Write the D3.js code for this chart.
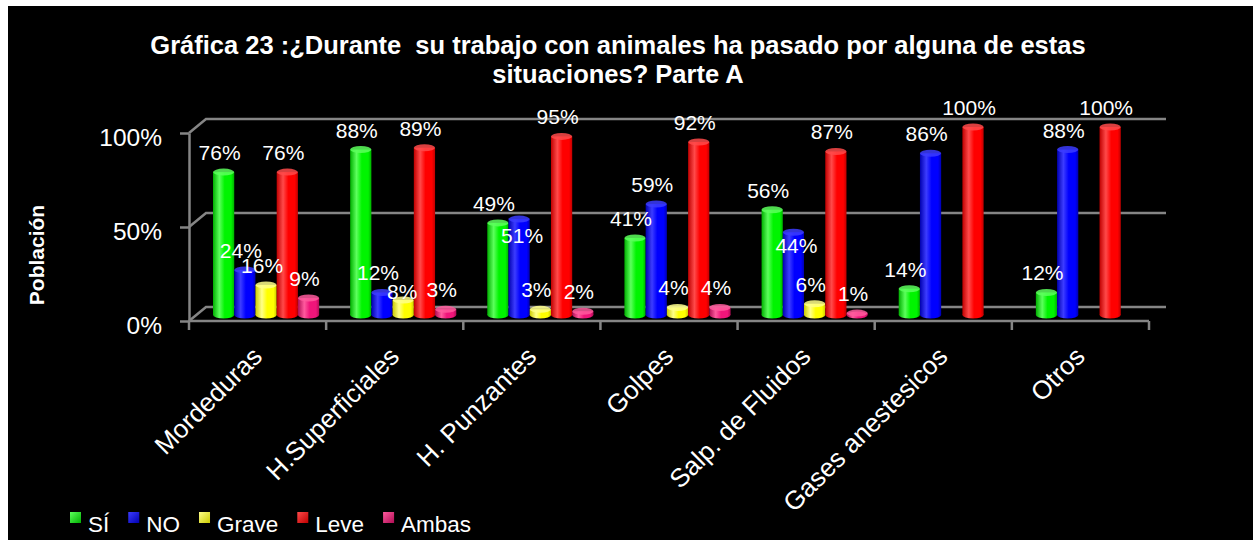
<!DOCTYPE html>
<html>
<head>
<meta charset="utf-8">
<script src="https://cdn.jsdelivr.net/npm/d3@7"></script>
<style>
  html, body { margin: 0; padding: 0; background: #fff; }
  svg { display: block; }
  text { font-family: "Liberation Sans", Arial, sans-serif; fill: #fff; white-space: pre; }
</style>
</head>
<body>
<svg id="chart" width="1253" height="540"></svg>
<script>
// Categories and series values (percent)
const categories = ["Mordeduras", "H.Superficiales", "H. Punzantes", "Golpes", "Salp. de Fluidos", "Gases anestesicos", "Otros"];
const seriesNames = ["SÍ", "NO", "Grave", "Leve", "Ambas"];
const si    = [76, 88, 49, 41, 56, 14, 12];
const no    = [24, 12, 51, 59, 44, 86, 88];
const grave = [16, 8, 3, 4, 6, null, null];
const leve  = [76, 89, 95, 92, 87, 100, 100];
const ambas = [9, 3, 2, 4, 1, null, null];
const yTicks = [0, 50, 100];
const titleLines = ["Gráfica 23 :¿Durante  su trabajo con animales ha pasado por alguna de estas", "situaciones? Parte A"];

// labels moved into their bar where they would collide with a neighbour
const labelShift = {
  "H. Punzantes|NO": { dx: 7, dy: 36 },
  "Salp. de Fluidos|NO": { dx: 7, dy: 33 },
  "H.Superficiales|Grave": { dx: 3, dy: 11 }
};

const seriesValues = [si, no, grave, leve, ambas];
// base / light / dark shades for the cylinders
const palette = [
  { base: "#00f400", light: "#5cff5c", dark: "#00b000" },
  { base: "#0000ff", light: "#3c3cff", dark: "#0000b0" },
  { base: "#ffff00", light: "#ffff8a", dark: "#cccc00" },
  { base: "#ff0000", light: "#ff4a4a", dark: "#c00000" },
  { base: "#f0157a", light: "#ff5a9e", dark: "#b00d55" }
];

const svg = d3.select("#chart");
const W = 1253, H = 540;

// black chart area
svg.append("rect").attr("x", 8).attr("y", 6).attr("width", W - 8).attr("height", H - 6).attr("fill", "#000");

const defs = svg.append("defs");
palette.forEach((p, i) => {
  const g = defs.append("linearGradient").attr("id", "cyl" + i).attr("x1", "0").attr("x2", "1").attr("y1", "0").attr("y2", "0");
  g.append("stop").attr("offset", "0").attr("stop-color", p.dark);
  g.append("stop").attr("offset", "0.3").attr("stop-color", p.light);
  g.append("stop").attr("offset", "0.55").attr("stop-color", p.base);
  g.append("stop").attr("offset", "0.85").attr("stop-color", p.base);
  g.append("stop").attr("offset", "1").attr("stop-color", p.dark);
  const s = defs.append("linearGradient").attr("id", "sq" + i).attr("x1", "0").attr("x2", "1").attr("y1", "0").attr("y2", "1");
  s.append("stop").attr("offset", "0").attr("stop-color", p.light);
  s.append("stop").attr("offset", "1").attr("stop-color", p.dark);
});

// Scales
const x = d3.scaleBand(categories, [189, 1149]);
const y = d3.scaleLinear([0, 100], [321, 133]);
const yBar = d3.scaleLinear([0, 100], [315, 127]);
const bw = x.bandwidth();
const x1 = d3.scaleBand(seriesNames, [bw * 0.113, bw * 0.887]);
const depthX = 17, depthY = -14;
const gridColor = "#858585";

// Title
svg.append("g").selectAll("text").data(titleLines).join("text")
  .attr("x", 618).attr("y", (d, i) => 54 + i * 29)
  .attr("text-anchor", "middle")
  .attr("font-size", 25.5).attr("font-weight", "bold")
  .text(d => d);

// Gridlines on the back wall, joined to the front axis by a diagonal
svg.append("g").selectAll("path").data(yTicks).join("path")
  .attr("d", t => `M${x.range()[0]},${y(t)} L${x.range()[0] + depthX},${y(t) + depthY} L${x.range()[1] + depthX},${y(t) + depthY}`)
  .attr("fill", "none").attr("stroke", gridColor).attr("stroke-width", 2.5);

// Y axis
const yAxis = svg.append("g").attr("transform", `translate(${x.range()[0]},0)`)
  .call(d3.axisLeft(y).tickValues(yTicks).tickFormat(d => d + "%").tickSize(9).tickSizeOuter(0).tickPadding(18));
yAxis.select(".domain").attr("stroke", gridColor).attr("stroke-width", 2.5);
yAxis.selectAll(".tick line").attr("stroke", gridColor).attr("stroke-width", 2.5);
yAxis.selectAll(".tick text").attr("fill", "#fff").attr("font-size", 24.5).attr("dy", "0.52em")
  .attr("font-family", "Liberation Sans, Arial, sans-serif");

// Y axis title
svg.append("text").attr("transform", "translate(44,255) rotate(-90)")
  .attr("text-anchor", "middle").attr("font-size", 21).attr("font-weight", "bold").text("Población");

// X baseline with tick marks at category boundaries
const boundaries = categories.map(c => x(c)).concat([x.range()[1]]);
svg.append("line").attr("x1", x.range()[0]).attr("x2", x.range()[1]).attr("y1", y(0)).attr("y2", y(0))
  .attr("stroke", gridColor).attr("stroke-width", 2.5);
svg.append("g").selectAll("line").data(boundaries).join("line")
  .attr("x1", d => d).attr("x2", d => d).attr("y1", y(0)).attr("y2", y(0) + 9)
  .attr("stroke", gridColor).attr("stroke-width", 2.5);

// Category labels
svg.append("g").selectAll("text").data(categories).join("text")
  .attr("transform", c => `translate(${x(c) + bw / 2 + 6},358) rotate(-45)`)
  .attr("text-anchor", "end").attr("font-size", 26).text(c => c);

// Cylinders
const bars = [];
seriesValues.forEach((vals, si_) => {
  vals.forEach((v, ci) => {
    if (v === null) return;
    bars.push({ s: si_, c: categories[ci], v });
  });
});
const ry = 3.5;
const barG = svg.append("g");
bars.forEach(b => {
  const left = x(b.c) + x1(seriesNames[b.s]) + depthX / 2;
  const w = x1.bandwidth();
  const top = yBar(b.v), base = yBar(0);
  const g = barG.append("g");
  g.append("ellipse").attr("cx", left + w / 2).attr("cy", base).attr("rx", w / 2).attr("ry", ry)
    .attr("fill", `url(#cyl${b.s})`);
  g.append("rect").attr("x", left).attr("y", top).attr("width", w).attr("height", base - top)
    .attr("fill", `url(#cyl${b.s})`);
  g.append("ellipse").attr("cx", left + w / 2).attr("cy", top).attr("rx", w / 2).attr("ry", ry)
    .attr("fill", palette[b.s].light).attr("opacity", 0.85);
});

// Value labels
const shiftOf = b => labelShift[b.c + "|" + seriesNames[b.s]] || { dx: 0, dy: 0 };
svg.append("g").selectAll("text").data(bars).join("text")
  .attr("x", b => x(b.c) + x1(seriesNames[b.s]) + depthX / 2 + x1.bandwidth() / 2 - 4 + shiftOf(b).dx)
  .attr("y", b => yBar(b.v) - 12 + shiftOf(b).dy)
  .attr("text-anchor", "middle").attr("font-size", 21)
  .text(b => b.v + "%");

// Legend
const legend = svg.append("g").attr("transform", "translate(70,0)");
let lx = 0;
seriesNames.forEach((name, i) => {
  legend.append("rect").attr("x", lx).attr("y", 512).attr("width", 11).attr("height", 11)
    .attr("fill", `url(#sq${i})`);
  const t = legend.append("text").attr("x", lx + 18).attr("y", 532).attr("font-size", 22.5).text(name);
  lx += 18 + t.node().getComputedTextLength() + 19;
});
</script>
</body>
</html>
